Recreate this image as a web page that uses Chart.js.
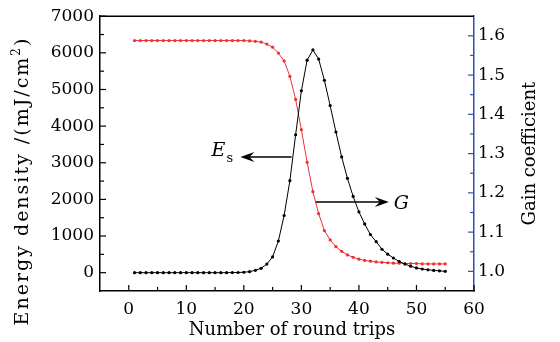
<!DOCTYPE html>
<html>
<head>
<meta charset="utf-8">
<script src="https://cdn.jsdelivr.net/npm/chart.js@4"></script>
<style>
  html, body { margin: 0; padding: 0; background: #fff; }
  canvas { display: block; }
</style>
</head>
<body>
<canvas id="gainChart" width="560" height="342"></canvas>
<script>
// data
const rounds = [1, 2, 3, 4, 5, 6, 7, 8, 9, 10, 11, 12, 13, 14, 15, 16, 17, 18, 19, 20,
    21, 22, 23, 24, 25, 26, 27, 28, 29, 30, 31, 32, 33, 34, 35, 36, 37, 38, 39, 40,
    41, 42, 43, 44, 45, 46, 47, 48, 49, 50, 51, 52, 53, 54, 55];

// Es, left axis (mJ/cm2)
const energyDensity = [0, 0, 0, 0, 0, 0, 0, 0, 0, 0, 0, 0, 0, 0, 0, 0, 0, 2, 5, 12,
    28, 65, 120, 235, 430, 865, 1560, 2510, 3765, 4965, 5800, 6080, 5830, 5250, 4560, 3840, 3160, 2575, 2080, 1660,
    1330, 1040, 845, 640, 505, 400, 305, 235, 175, 130, 100, 78, 62, 50, 38];

// G, right axis
const gainCoefficient = [1.588, 1.588, 1.588, 1.588, 1.588, 1.588, 1.588, 1.588, 1.588, 1.588,
    1.588, 1.588, 1.588, 1.588, 1.588, 1.588, 1.588, 1.588, 1.588, 1.588,
    1.587, 1.586, 1.584, 1.579, 1.571, 1.556, 1.536, 1.497, 1.438, 1.361,
    1.278, 1.203, 1.147, 1.104, 1.080, 1.063, 1.051, 1.042, 1.036, 1.031,
    1.028, 1.026, 1.024, 1.023, 1.022, 1.021, 1.021, 1.020, 1.020, 1.020,
    1.019, 1.019, 1.019, 1.019, 1.019];

const xTicks = [0, 10, 20, 30, 40, 50, 60];
const xMinorTicks = [5, 15, 25, 35, 45, 55];
const leftTicks = [0, 1000, 2000, 3000, 4000, 5000, 6000, 7000];
const leftMinorTicks = [500, 1500, 2500, 3500, 4500, 5500, 6500];
const rightTicks = [1.0, 1.1, 1.2, 1.3, 1.4, 1.5, 1.6];
const rightMinorTicks = [1.05, 1.15, 1.25, 1.35, 1.45, 1.55];

const SERIF = "'DejaVu Serif', 'Liberation Serif', serif";
const BLUE = '#2c4fb4';
const RED = '#f03030';

Chart.defaults.font.family = SERIF;
Chart.defaults.font.size = 17;
Chart.defaults.color = '#000';

// frame, inside ticks, titles and the Es / G arrows
const decorations = {
    id: 'decorations',
    afterDraw(chart) {
        const { ctx, chartArea: a, scales: { x, y, y1 } } = chart;
        ctx.save();

        ctx.lineWidth = 1.5;
        ctx.strokeStyle = '#000';
        ctx.beginPath();
        ctx.moveTo(a.left, a.top);
        ctx.lineTo(a.right, a.top);
        ctx.stroke();

        function seg(x0, y0, x1, y1_) {
            ctx.beginPath();
            ctx.moveTo(x0, y0);
            ctx.lineTo(x1, y1_);
            ctx.stroke();
        }

        ctx.lineWidth = 1.2;
        xTicks.forEach(v => { const p = x.getPixelForValue(v); seg(p, a.bottom, p, a.bottom - 6); });
        xMinorTicks.forEach(v => { const p = x.getPixelForValue(v); seg(p, a.bottom, p, a.bottom - 4); });
        leftTicks.forEach(v => { const p = y.getPixelForValue(v); seg(a.left, p, a.left + 6, p); });
        leftMinorTicks.forEach(v => { const p = y.getPixelForValue(v); seg(a.left, p, a.left + 4, p); });
        ctx.strokeStyle = BLUE;
        rightTicks.forEach(v => { const p = y1.getPixelForValue(v); seg(a.right, p, a.right - 6, p); });
        rightMinorTicks.forEach(v => { const p = y1.getPixelForValue(v); seg(a.right, p, a.right - 4, p); });

        // axis titles
        ctx.fillStyle = '#000';
        ctx.textBaseline = 'middle';
        ctx.font = '18px ' + SERIF;
        ctx.textAlign = 'center';
        ctx.fillText('Number of round trips', (a.left + a.right) / 2 + 5, 330);

        ctx.save();
        ctx.translate(530, (a.top + a.bottom) / 2);
        ctx.rotate(-Math.PI / 2);
        ctx.fillText('Gain coefficient', 0, 0);
        ctx.restore();

        // left title sits a bit low and is long in the original
        ctx.save();
        ctx.translate(23, 181);
        ctx.rotate(-Math.PI / 2);
        ctx.letterSpacing = '2px';
        ctx.textAlign = 'left';
        const main = 'Energy density /(mJ/cm';
        ctx.font = '19px ' + SERIF;
        const w1 = ctx.measureText(main).width;
        ctx.font = '12px ' + SERIF;
        const w2 = ctx.measureText('2').width;
        ctx.font = '19px ' + SERIF;
        const w3 = ctx.measureText(')').width;
        let cx = -(w1 + w2 + w3) / 2;
        ctx.fillText(main, cx, 0);
        cx += w1;
        ctx.font = '12px ' + SERIF;
        ctx.fillText('2', cx, -6);
        cx += w2;
        ctx.font = '19px ' + SERIF;
        ctx.fillText(')', cx, 0);
        ctx.restore();

        // arrows
        function arrow(x0, yy, x1) {
            const dir = Math.sign(x1 - x0);
            ctx.strokeStyle = '#000';
            ctx.fillStyle = '#000';
            ctx.lineWidth = 1.5;
            seg(x0, yy, x1 - dir * 8, yy);
            ctx.beginPath();
            ctx.moveTo(x1, yy);
            ctx.lineTo(x1 - dir * 14, yy - 5);
            ctx.lineTo(x1 - dir * 9, yy);
            ctx.lineTo(x1 - dir * 14, yy + 5);
            ctx.closePath();
            ctx.fill();
        }

        const esY = y.getPixelForValue(3160);
        const esStart = x.getPixelForValue(28.3);
        const esTip = x.getPixelForValue(19.4);
        arrow(esStart, esY, esTip);

        const gY = y.getPixelForValue(1930);
        const gStart = x.getPixelForValue(32.5);
        const gTip = x.getPixelForValue(45.2);
        arrow(gStart, gY, gTip);

        ctx.fillStyle = '#000';
        ctx.textAlign = 'left';
        ctx.textBaseline = 'alphabetic';
        ctx.font = 'italic 19px ' + SERIF;
        ctx.fillText('E', esTip - 29, esY - 1);
        ctx.font = '13px ' + SERIF;
        ctx.fillText('s', esTip - 14, esY + 5);
        ctx.font = 'italic 19px ' + SERIF;
        ctx.fillText('G', gTip + 5, gY + 7);

        ctx.restore();
    }
};

const ctx = document.getElementById('gainChart').getContext('2d');

const tickFont = { family: SERIF, size: 17 };

new Chart(ctx, {
    type: 'line',
    data: {
        datasets: [{
            label: 'Es',
            data: rounds.map((r, i) => ({ x: r, y: energyDensity[i] })),
            yAxisID: 'y',
            borderColor: '#000',
            backgroundColor: '#000',
            borderWidth: 1,
            pointRadius: 1.6,
            pointBorderWidth: 0,
            tension: 0
        }, {
            label: 'G',
            data: rounds.map((r, i) => ({ x: r, y: gainCoefficient[i] })),
            yAxisID: 'y1',
            borderColor: RED,
            backgroundColor: RED,
            borderWidth: 1,
            pointRadius: 1.6,
            pointBorderWidth: 0,
            tension: 0
        }]
    },
    options: {
        responsive: false,
        animation: false,
        devicePixelRatio: 1,
        layout: { padding: { top: 12, left: 0, right: 0, bottom: 0 } },
        plugins: {
            legend: { display: false },
            tooltip: { enabled: false }
        },
        scales: {
            x: {
                type: 'linear',
                min: -5,
                max: 60,
                afterBuildTicks: s => { s.ticks = xTicks.map(v => ({ value: v })); },
                afterFit: s => { s.height = 51; },
                grid: { display: false, drawTicks: false },
                border: { display: true, color: '#000', width: 1.5 },
                ticks: { color: '#000', padding: 8, font: tickFont, callback: v => String(v) }
            },
            y: {
                position: 'left',
                min: -500,
                max: 7000,
                afterBuildTicks: s => { s.ticks = leftTicks.map(v => ({ value: v })); },
                afterFit: s => { s.width = 100; },
                grid: { display: false, drawTicks: false },
                border: { display: true, color: '#000', width: 1.5 },
                ticks: { color: '#000', padding: 6, font: tickFont, callback: v => String(v) }
            },
            y1: {
                position: 'right',
                min: 0.95,
                max: 1.65,
                afterBuildTicks: s => { s.ticks = rightTicks.map(v => ({ value: v })); },
                afterFit: s => { s.width = 86; },
                grid: { display: false, drawTicks: false },
                border: { display: true, color: BLUE, width: 1.5 },
                ticks: { color: '#000', padding: 4, font: tickFont, callback: v => v.toFixed(1) }
            }
        }
    },
    plugins: [decorations]
});
</script>
</body>
</html>
